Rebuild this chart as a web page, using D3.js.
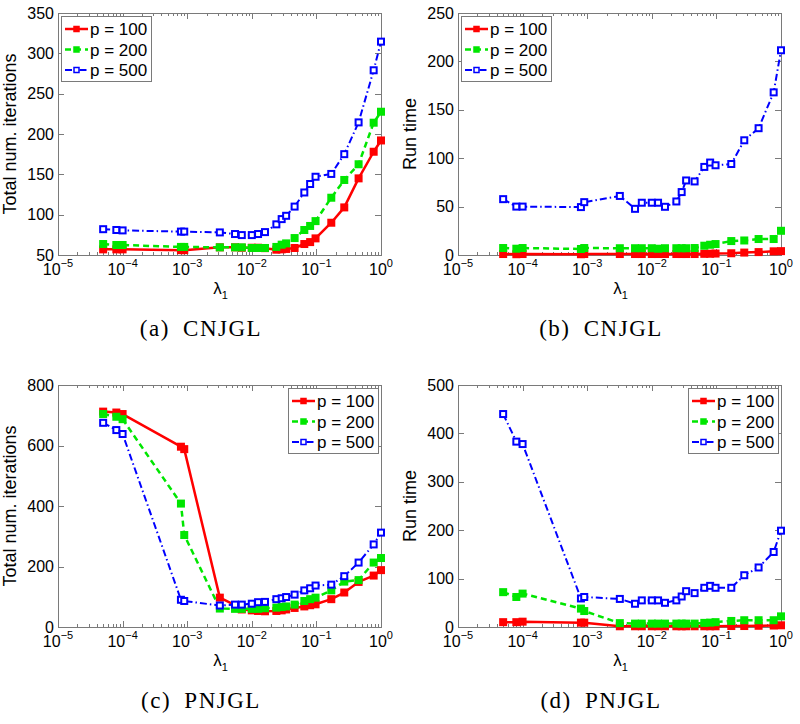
<!DOCTYPE html>
<html><head><meta charset="utf-8">
<script src="https://cdn.jsdelivr.net/npm/d3@7"></script>
<style>body{margin:0;background:#fff}svg{display:block}</style>
</head><body>
<svg id="c" width="800" height="724"></svg>
<script>
const lambda = [5e-5, 8e-5, 1e-4, 8e-4, 9e-4, 3.2e-3, 5.5e-3, 7e-3, 1e-2, 1.25e-2, 1.6e-2, 2.4e-2, 2.9e-2, 3.4e-2, 4.6e-2, 6.5e-2, 8e-2, 9.7e-2, 0.17, 0.27, 0.45, 0.77, 1.0];
const seriesNames = ["p = 100", "p = 200", "p = 500"];
const xTickExps = [-5, -4, -3, -2, -1, 0];

const cnjglIterP100 = [57, 57, 57, 56, 56, 59.5, 59.5, 59, 59, 59, 58.5, 56.6, 57, 57.5, 58.7, 63.6, 66, 70.6, 90, 109, 145, 178, 192];
const cnjglIterP200 = [63.6, 62.4, 62.4, 60, 60, 59.5, 59.5, 59.5, 58.7, 58.7, 58.7, 60, 62.8, 64.4, 71, 81, 86, 92, 121, 143, 162.5, 214, 227.6];
const cnjglIterP500 = [82, 81, 80.5, 79, 79, 78, 76, 74.7, 74.7, 76, 78.4, 88, 94.5, 98.6, 110, 127.5, 138, 147, 150.5, 175, 214.4, 279, 314.5];

const cnjglTimeP100 = [1, 0.8, 1, 0.8, 1, 1, 1, 1, 1, 1, 1, 1, 1, 1, 1, 1.2, 1.3, 1.5, 1.8, 2.5, 3, 3.8, 4];
const cnjglTimeP200 = [7.2, 6.5, 7.2, 6.2, 7.2, 7, 7, 7, 7, 6.5, 7, 7, 7, 7, 7.2, 9.6, 10.6, 11.3, 14.4, 15, 16.5, 16.5, 25];
const cnjglTimeP500 = [57.7, 50, 50, 49.5, 54.6, 61, 47.7, 54, 54, 54, 49.8, 55.3, 65, 77, 76, 91, 95.5, 92.7, 94, 118.5, 131, 168, 211.5];

const pnjglIterP100 = [712, 709, 704, 596, 588, 97, 72, 58, 55, 53, 52, 53, 55, 58, 63, 68, 72, 75, 92, 114, 149, 170, 188];
const pnjglIterP200 = [704, 695, 687, 408, 304, 61, 60, 60, 60, 60, 62, 64, 66, 68, 74, 86, 92, 97, 121, 150, 155, 213, 228];
const pnjglIterP500 = [675, 651, 638, 90, 86, 71, 74, 74, 77, 82, 83, 92, 95, 99, 107, 121, 128, 137, 140, 168, 213, 273, 312];

const pnjglTimeP100 = [10, 10, 11, 9, 9, 1.5, 1.5, 1.5, 1.5, 1.5, 1.5, 1.5, 1.5, 1.5, 1.5, 1.5, 1.5, 1.5, 2, 2, 2.5, 3, 3.5];
const pnjglTimeP200 = [72, 62, 69, 38, 33, 8, 7, 7, 7, 7, 7, 7, 7, 7, 7, 8.5, 9, 10, 12.5, 14, 14, 14, 22];
const pnjglTimeP500 = [440, 383, 378, 59, 62, 58, 48, 55, 55, 55, 50, 55, 63, 74, 70, 81, 85, 81, 81, 107, 123, 155, 199];

const styles = [
  {color: "#ff0000", dash: null, width: 2.5, fill: "#ff0000"},
  {color: "#00e600", dash: "6,4", width: 2.5, fill: "#00e600"},
  {color: "#0000ff", dash: "7,3,1.5,3", width: 2, fill: "#ffffff"}
];

const panels = [
  {x0: 58, y0: 13, yDomain: [50, 350], yTicks: [50,100,150,200,250,300,350], yLabel: "Total num. iterations", legend: "left", caption: "(a)", capName: "CNJGL", data: [cnjglIterP100, cnjglIterP200, cnjglIterP500]},
  {x0: 458, y0: 13, yDomain: [0, 250], yTicks: [0,50,100,150,200,250], yLabel: "Run time", legend: "left", caption: "(b)", capName: "CNJGL", data: [cnjglTimeP100, cnjglTimeP200, cnjglTimeP500]},
  {x0: 58, y0: 385, yDomain: [0, 800], yTicks: [0,200,400,600,800], yLabel: "Total num. iterations", legend: "right", caption: "(c)", capName: "PNJGL", data: [pnjglIterP100, pnjglIterP200, pnjglIterP500]},
  {x0: 458, y0: 385, yDomain: [0, 500], yTicks: [0,100,200,300,400,500], yLabel: "Run time", legend: "right", caption: "(d)", capName: "PNJGL", data: [pnjglTimeP100, pnjglTimeP200, pnjglTimeP500]}
];

const W = 323, H = 242;
const svg = d3.select("#c");
const font = "Liberation Sans, Arial, Helvetica, sans-serif";
const frameColor = "#7a7a7a";

panels.forEach(p => {
  const g = svg.append("g").attr("transform", `translate(${p.x0},${p.y0})`);
  const x = d3.scaleLog().domain([1e-5, 1]).range([0, W]);
  const y = d3.scaleLinear().domain(p.yDomain).range([H, 0]);

  const minor = [];
  for (let e = -5; e < 0; e++) for (let m = 2; m <= 9; m++) minor.push(m * Math.pow(10, e));
  const tickG = g.append("g").attr("stroke", frameColor).attr("stroke-width", 1);
  minor.forEach(v => {
    const xx = Math.round(x(v)) + 0.5;
    tickG.append("line").attr("x1", xx).attr("x2", xx).attr("y1", H).attr("y2", H - 3);
    tickG.append("line").attr("x1", xx).attr("x2", xx).attr("y1", 0).attr("y2", 3);
  });
  xTickExps.forEach(e => {
    const xx = Math.round(x(Math.pow(10, e))) + 0.5;
    tickG.append("line").attr("x1", xx).attr("x2", xx).attr("y1", H).attr("y2", H - 6);
    tickG.append("line").attr("x1", xx).attr("x2", xx).attr("y1", 0).attr("y2", 6);
  });
  p.yTicks.forEach(v => {
    const yy = Math.round(y(v)) + 0.5;
    tickG.append("line").attr("x1", 0).attr("x2", 6).attr("y1", yy).attr("y2", yy);
    tickG.append("line").attr("x1", W).attr("x2", W - 6).attr("y1", yy).attr("y2", yy);
  });
  g.append("rect").attr("x", 0.5).attr("y", 0.5).attr("width", W).attr("height", H)
    .attr("fill", "none").attr("stroke", frameColor).attr("stroke-width", 1);

  p.yTicks.forEach(v => {
    g.append("text").attr("x", -4).attr("y", y(v) + 5.5).attr("text-anchor", "end")
      .attr("font-family", font).attr("font-size", 16).attr("fill", "#000").text(v);
  });
  xTickExps.forEach(e => {
    const t = g.append("text").attr("x", x(Math.pow(10, e))).attr("y", H + 20).attr("text-anchor", "middle")
      .attr("font-family", font).attr("font-size", 16).attr("fill", "#000");
    t.append("tspan").text("10");
    t.append("tspan").attr("dy", -8).attr("font-size", 11).text(e === 0 ? "0" : "\u2212" + Math.abs(e));
  });
  const xl = g.append("text").attr("x", W / 2 + 1).attr("y", H + 39).attr("text-anchor", "middle")
    .attr("font-family", font).attr("font-size", 17).attr("fill", "#000");
  xl.append("tspan").text("\u03bb");
  xl.append("tspan").attr("dy", 5).attr("font-size", 11).text("1");
  g.append("text").attr("transform", `translate(${-42},${H / 2}) rotate(-90)`).attr("text-anchor", "middle")
    .attr("font-family", font).attr("font-size", 18).attr("fill", "#000").text(p.yLabel);

  const line = d3.line().x((d, i) => x(lambda[i])).y(d => y(d));
  p.data.forEach((vals, si) => {
    const s = styles[si];
    g.append("path").datum(vals).attr("d", line).attr("fill", "none")
      .attr("stroke", s.color).attr("stroke-width", s.width)
      .attr("stroke-dasharray", s.dash).attr("stroke-linejoin", "round");
    g.selectAll(null).data(vals).enter().append("rect")
      .attr("x", (d, i) => x(lambda[i]) - 3).attr("y", d => y(d) - 3)
      .attr("width", 6).attr("height", 6)
      .attr("fill", s.fill).attr("stroke", s.color).attr("stroke-width", 2);
  });

  const lw = 90, lh = 65;
  const lx = p.legend === "left" ? 3 : W - 3 - lw;
  const lg = g.append("g").attr("transform", `translate(${lx},3)`);
  lg.append("rect").attr("x", 0.5).attr("y", 0.5).attr("width", lw).attr("height", lh)
    .attr("fill", "#fff").attr("stroke", frameColor).attr("stroke-width", 1);
  seriesNames.forEach((name, si) => {
    const s = styles[si];
    const ry = 13 + si * 20.5;
    lg.append("line").attr("x1", 4).attr("x2", 27).attr("y1", ry).attr("y2", ry)
      .attr("stroke", s.color).attr("stroke-width", s.width).attr("stroke-dasharray", s.dash);
    lg.append("rect").attr("x", 15.5 - 2.5).attr("y", ry - 2.5).attr("width", 5).attr("height", 5)
      .attr("fill", s.fill).attr("stroke", s.color).attr("stroke-width", 1.5);
    lg.append("text").attr("x", 29).attr("y", ry + 6).attr("font-family", font)
      .attr("font-size", 17).attr("fill", "#000").text(name);
  });

  svg.append("text").attr("x", p.x0 + 143).attr("y", p.y0 + 323).attr("text-anchor", "middle")
    .attr("font-family", "Liberation Serif, Times New Roman, serif").attr("font-size", 23).attr("fill", "#000")
    .attr("letter-spacing", 1.5).attr("word-spacing", 6)
    .text(p.caption + " " + p.capName);
});
</script>
</body></html>
